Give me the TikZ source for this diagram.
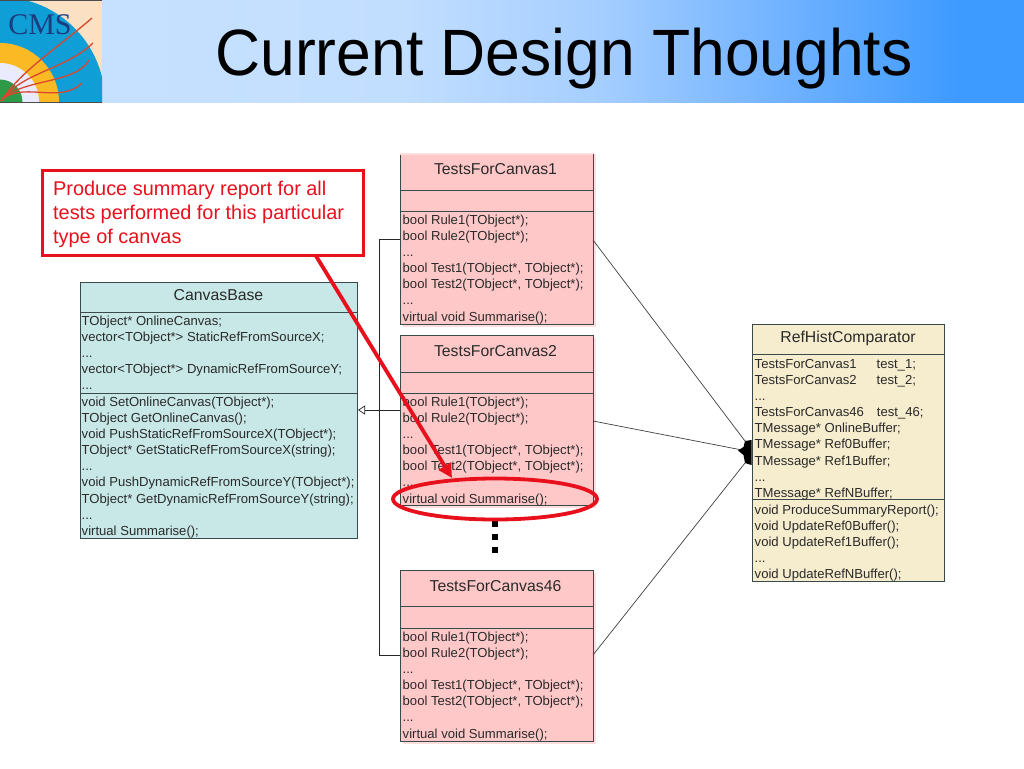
\documentclass[tikz,border=0pt]{standalone}
\usepackage{graphicx}
\usepackage{fontspec}
\setmainfont{Liberation Sans}
\usetikzlibrary{arrows.meta,calc}
\definecolor{hdrA}{HTML}{C8E2FF}
\definecolor{hdrB}{HTML}{C2DEFF}
\definecolor{hdrC}{HTML}{A5CEFF}
\definecolor{hdrD}{HTML}{6CB0FF}
\definecolor{hdrE}{HTML}{3D9AFF}
\pgfdeclarehorizontalshading{hdrshade}{100bp}{
  color(0bp)=(hdrA); color(25bp)=(hdrA); color(44.5bp)=(hdrB); color(54.3bp)=(hdrC);
  color(64bp)=(hdrD); color(71.9bp)=(hdrE); color(75bp)=(hdrE); color(100bp)=(hdrE)}
\definecolor{pinkbox}{HTML}{FFC8C8}
\definecolor{tealbox}{HTML}{C8E8E8}
\definecolor{creambox}{HTML}{F6ECCE}
\definecolor{linecol}{HTML}{3A4A4A}
\definecolor{txtcol}{HTML}{2A2A2A}
\definecolor{redmark}{HTML}{E8101C}
\definecolor{logoblue}{HTML}{0F9FD6}
\definecolor{logopeach}{HTML}{FCE0C4}
\definecolor{logoyellow}{HTML}{FBB924}
\definecolor{logogreen}{HTML}{2E9A48}
\definecolor{logotrack}{HTML}{D8472E}
\definecolor{logoink}{HTML}{1C3C80}
\newcommand{\firstline}{\rule{0pt}{13pt}}
\tikzset{
  x=1pt,y=-1pt,
  umlbox/.style={draw=linecol,line width=0.9pt,anchor=north west,inner sep=0pt,outer sep=0pt},
  umltitle/.style={font=\fontsize{15.8}{18}\selectfont,text=txtcol,inner sep=0pt},
  umltext/.style={font=\fontsize{13.1}{16.15}\selectfont,text=txtcol,inner sep=0pt,anchor=north west,align=left},
  divider/.style={draw=linecol,line width=0.9pt},
  assoc/.style={draw=black!75,line width=0.7pt},
  inherit/.style={draw=black!85,line width=0.7pt},
  redline/.style={draw=redmark,line width=3.8pt},
  dotsq/.style={fill=black,draw=none,minimum size=6.5pt,inner sep=0pt},
  track/.style={draw=logotrack,line width=1.3pt},
}
\newcommand{\umlclass}[6]{% name, x, y, w, h, fill
  \node[umlbox,fill=#6,minimum width=#4pt,minimum height=#5pt] (#1) at (#2,#3) {};
}
\begin{document}
\begin{tikzpicture}
\useasboundingbox (0,0) rectangle (1024,768);
\fill[white] (0,0) rectangle (1024,768);
% header band
\shade[shading=hdrshade] (0,0) rectangle (1024,102.5);
\node[font=\fontsize{62.4}{70}\selectfont,text=black,inner sep=0pt,anchor=base] (title) at (564,75) {\scalebox{1}[1.05]{Current Design Thoughts}};
% logo
\begin{scope}
\clip (0,0) rectangle (102,102.5);
\fill[logopeach] (0,0) rectangle (102,102.5);
\fill[logoblue] (0,102) circle[radius=105];
\fill[logoyellow] (0,102) circle[radius=59];
\fill[white!92!blue] (0,102) circle[radius=39];
\fill[logogreen] (0,102) circle[radius=22.5];
\draw[black!70,line width=1pt] (0,0.5) -- (102,0.5);
\draw[black!70,line width=0.8pt] (0,102) -- (102,102);
\end{scope}
\node[font=\fontsize{30}{32}\selectfont\fontspec{Liberation Serif},text=logoink,inner sep=0pt,anchor=base] (cms) at (40,35) {CMS};
\draw[track] (1,101) .. controls (22,70) and (55,50) .. (92,18);
\draw[track] (1,101) .. controls (22,72) and (65,70) .. (93,43);
\draw[track] (1,101) .. controls (20,78) and (75,85) .. (89,60);
\draw[track] (1,101) .. controls (20,80) and (60,105) .. (82,83);
% class box shadows
\fill[pinkbox!60] (403,154) rectangle (596,327);
\fill[pinkbox!60] (403,338) rectangle (596,508);
\fill[pinkbox!60] (403,573) rectangle (596,744);
% class boxes
\umlclass{base}{80}{282}{277}{256}{tealbox}
\umlclass{tc1}{400}{154}{193}{170}{pinkbox}
\umlclass{tc2}{400}{335}{193}{170.5}{pinkbox}
\umlclass{tc46}{400}{570}{193}{171}{pinkbox}
\umlclass{cmp}{752}{324}{192}{257}{creambox}
\draw[draw=pinkbox!60,line width=1.2pt] (400,154) -- (593,154);
% dividers
\draw[divider] (base.west|-0,312) -- (base.east|-0,312);
\draw[divider] (base.west|-0,393) -- (base.east|-0,393);
\draw[divider] (tc1.west|-0,190) -- (tc1.east|-0,190);
\draw[divider] (tc1.west|-0,211) -- (tc1.east|-0,211);
\draw[divider] (tc2.west|-0,372) -- (tc2.east|-0,372);
\draw[divider] (tc2.west|-0,393) -- (tc2.east|-0,393);
\draw[divider] (tc46.west|-0,606) -- (tc46.east|-0,606);
\draw[divider] (tc46.west|-0,628) -- (tc46.east|-0,628);
\draw[divider] (cmp.west|-0,354) -- (cmp.east|-0,354);
\draw[divider] (cmp.west|-0,499) -- (cmp.east|-0,499);
% titles
\node[umltitle] (tbase) at (218.5,295) {CanvasBase};
\node[umltitle] (ttc1) at (495.5,169) {TestsForCanvas1};
\node[umltitle] (ttc2) at (495.5,351) {TestsForCanvas2};
\node[umltitle] (ttc46) at (495.5,586) {TestsForCanvas46};
\node[umltitle] (tcmp) at (848,338) {RefHistComparator};
% texts
\node[umltext] (a1) at (81.5,312) {\firstline TObject* OnlineCanvas;\\vector<TObject*> StaticRefFromSourceX;\\...\\vector<TObject*> DynamicRefFromSourceY;\\...};
\node[umltext] (a2) at (81.5,393) {\firstline void SetOnlineCanvas(TObject*);\\TObject GetOnlineCanvas();\\void PushStaticRefFromSourceX(TObject*);\\TObject* GetStaticRefFromSourceX(string);\\...\\void PushDynamicRefFromSourceY(TObject*);\\TObject* GetDynamicRefFromSourceY(string);\\...\\virtual Summarise();};
\node[umltext] (b1) at (402.5,211) {\firstline bool Rule1(TObject*);\\bool Rule2(TObject*);\\...\\bool Test1(TObject*, TObject*);\\bool Test2(TObject*, TObject*);\\...\\virtual void Summarise();};
\node[umltext] (b2) at (402.5,393) {\firstline bool Rule1(TObject*);\\bool Rule2(TObject*);\\...\\bool Test1(TObject*, TObject*);\\bool Test2(TObject*, TObject*);\\...\\virtual void Summarise();};
\node[umltext] (b3) at (402.5,628) {\firstline bool Rule1(TObject*);\\bool Rule2(TObject*);\\...\\bool Test1(TObject*, TObject*);\\bool Test2(TObject*, TObject*);\\...\\virtual void Summarise();};
\node[umltext] (c1) at (754.5,355) {\firstline TestsForCanvas1\hspace{20pt}test\_1;\\TestsForCanvas2\hspace{20pt}test\_2;\\...\\TestsForCanvas46\hspace{13pt}test\_46;\\TMessage* OnlineBuffer;\\TMessage* Ref0Buffer;\\TMessage* Ref1Buffer;\\...\\TMessage* RefNBuffer;};
\node[umltext] (c2) at (754.5,501) {\firstline void ProduceSummaryReport();\\void UpdateRef0Buffer();\\void UpdateRef1Buffer();\\...\\void UpdateRefNBuffer();};
% inheritance
\coordinate (bus1) at (379,239);
\coordinate (bus2) at (379,655);
\coordinate (tip) at (358,410);
\draw[inherit] (tc1.west|-bus1) -- (bus1) -- (bus2) -- (tc46.west|-bus2);
\draw[inherit,-{Triangle[open,length=7pt,width=9pt]}] (tc2.west|-tip) -- (tip);
% association
\coordinate (a1s) at (593,240);
\coordinate (a2s) at (593,421);
\coordinate (a3s) at (593,655);
\coordinate (a1e) at (745,441);
\coordinate (a2e) at (742,450);
\coordinate (a3e) at (745,463);
\draw[assoc] (a1s) -- (a1e);
\draw[assoc] (a2s) -- (a2e);
\draw[assoc] (a3s) -- (a3e);
\fill[black] (751.5,440) -- (745,441) -- (743.5,447) -- (738,450.5) -- (743.5,455) -- (745,463) -- (751.5,465) -- cycle;
% dots
\node[dotsq] (d1) at (495,524) {};
\node[dotsq] (d2) at (495,537) {};
\node[dotsq] (d3) at (495,550) {};
% callout
\node[draw=redmark,line width=3pt,fill=white,anchor=north west,minimum width=320.5pt,minimum height=85pt,inner sep=0pt,outer sep=0pt] (note) at (42.5,170.5) {};
\node[font=\fontsize{19.9}{24}\selectfont,text=redmark,anchor=north west,align=left,inner sep=0pt] (notetxt) at (53,181) {Produce summary report for all\\tests performed for this particular\\type of canvas};
\coordinate (ns) at (316,256);
\coordinate (nt) at (452,478);
\draw[redline,-{Triangle[length=14pt,width=14pt]}] (ns) -- (nt);
\draw[redmark,line width=3.8pt] (495,499) ellipse[x radius=102,y radius=20.5];
\end{tikzpicture}
\end{document}
